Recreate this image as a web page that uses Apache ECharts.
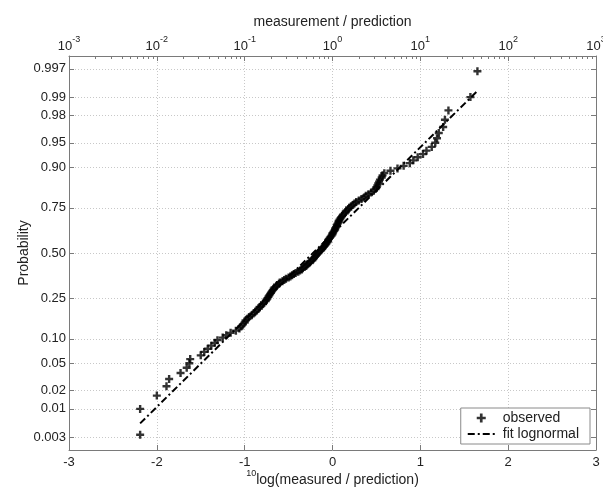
<!DOCTYPE html>
<html>
<head>
<meta charset="utf-8">
<script src="https://cdn.jsdelivr.net/npm/echarts@6/dist/echarts.min.js"></script>
<style>
html, body { margin: 0; padding: 0; background: #fff; }
#plot { width: 603px; height: 489px; }
</style>
</head>
<body>
<div id="plot"></div>
<script>
// 10log(measured / prediction), sorted, one value per observation
var observed = [
  -2.19, -2.19, -2.00, -1.89, -1.86, -1.73, -1.66, -1.63, -1.62, -1.50,
  -1.46, -1.42, -1.38, -1.34, -1.31, -1.25, -1.21, -1.16, -1.10, -1.06,
  -1.04, -1.02, -1.00, -0.99, -0.97, -0.95, -0.92, -0.90, -0.88, -0.86,
  -0.84, -0.83, -0.81, -0.79, -0.78, -0.76, -0.75, -0.74, -0.73, -0.72,
  -0.71, -0.70, -0.69, -0.68, -0.67, -0.66, -0.64, -0.63, -0.61, -0.60,
  -0.57, -0.55, -0.53, -0.50, -0.48, -0.46, -0.44, -0.42, -0.39, -0.37,
  -0.35, -0.34, -0.32, -0.30, -0.29, -0.28, -0.26, -0.25, -0.23, -0.22,
  -0.21, -0.20, -0.19, -0.18, -0.17, -0.16, -0.15, -0.13, -0.12, -0.11,
  -0.10, -0.09, -0.08, -0.07, -0.06, -0.05, -0.05, -0.04, -0.03, -0.02,
  -0.01, 0.00, 0.00, 0.01, 0.02, 0.03, 0.03, 0.04, 0.05, 0.05,
  0.06, 0.07, 0.07, 0.08, 0.09, 0.10, 0.11, 0.12, 0.14, 0.15,
  0.16, 0.18, 0.19, 0.21, 0.23, 0.25, 0.27, 0.30, 0.33, 0.36,
  0.38, 0.41, 0.44, 0.47, 0.49, 0.50, 0.51, 0.52, 0.53, 0.54,
  0.56, 0.57, 0.59, 0.66, 0.74, 0.81, 0.88, 0.92, 0.97, 1.03,
  1.07, 1.13, 1.17, 1.19, 1.21, 1.26, 1.28, 1.32, 1.57, 1.65
];
// fitted lognormal line: end points (x, probability)
var fitX = [-2.19, 1.65];
var fitP = [0.0055, 0.9922];

var probTicks = ['0.003', '0.01', '0.02', '0.05', '0.10', '0.25', '0.50', '0.75', '0.90', '0.95', '0.98', '0.99', '0.997'];
var xTicks = [-3, -2, -1, 0, 1, 2, 3];
var topDecades = [-3, -2, -1, 0, 1, 2, 3];
var minorFactors = [2, 3, 4, 5, 6, 7, 8, 9];

// inverse normal cdf (Acklam) - used as the probability axis scale
function probit(p) {
  var a = [-3.969683028665376e+01, 2.209460984245205e+02, -2.759285104469687e+02, 1.383577518672690e+02, -3.066479806614716e+01, 2.506628277459239e+00];
  var b = [-5.447609879822406e+01, 1.615858368580409e+02, -1.556989798598866e+02, 6.680131188771972e+01, -1.328068155288572e+01];
  var c = [-7.784894002430293e-03, -3.223964580411365e-01, -2.400758277161838e+00, -2.549732539343734e+00, 4.374664141464968e+00, 2.938163982698783e+00];
  var d = [7.784695709041462e-03, 3.224671290700398e-01, 2.445134137142996e+00, 3.754408661907416e+00];
  var q, r;
  if (p < 0.02425) {
    q = Math.sqrt(-2 * Math.log(p));
    return (((((c[0] * q + c[1]) * q + c[2]) * q + c[3]) * q + c[4]) * q + c[5]) / ((((d[0] * q + d[1]) * q + d[2]) * q + d[3]) * q + 1);
  }
  if (p > 1 - 0.02425) {
    q = Math.sqrt(-2 * Math.log(1 - p));
    return -(((((c[0] * q + c[1]) * q + c[2]) * q + c[3]) * q + c[4]) * q + c[5]) / ((((d[0] * q + d[1]) * q + d[2]) * q + d[3]) * q + 1);
  }
  q = p - 0.5;
  r = q * q;
  return (((((a[0] * r + a[1]) * r + a[2]) * r + a[3]) * r + a[4]) * r + a[5]) * q / (((((b[0] * r + b[1]) * r + b[2]) * r + b[3]) * r + b[4]) * r + 1);
}

var n = observed.length;
var obsData = observed.map(function (v, i) { return [v, probit((i + 0.5) / n)]; });
var fitData = fitX.map(function (v, i) { return [v, probit(fitP[i])]; });
var probValues = probTicks.map(function (s) { return probit(parseFloat(s)); });
var minorValues = [];
topDecades.slice(0, -1).forEach(function (e) {
  minorFactors.forEach(function (k) { minorValues.push(e + Math.log10(k)); });
});

function probLabel(v) {
  for (var i = 0; i < probValues.length; i++) {
    if (Math.abs(probValues[i] - v) < 1e-6) return probTicks[i];
  }
  return '';
}

var plusPath = 'path://M3.5,0H6.5V3.5H10V6.5H6.5V10H3.5V6.5H0V3.5H3.5Z';
var dashDotPath = 'path://M0,4H7V6H0Z M10,4H12V6H10Z M15,4H22V6H15Z M25,4H27V6H25Z';
var textColor = '#222';
var lineColor = '#7a7a7a';
var gridLine = { show: true, lineStyle: { color: '#c8c8c8', type: [1, 2], width: 1 } };

var chart = echarts.init(document.getElementById('plot'));
chart.setOption({
  backgroundColor: '#fff',
  animation: false,
  textStyle: { fontFamily: 'Liberation Sans, Arial, sans-serif' },
  grid: { left: 69, right: 7, top: 56, bottom: 39, containLabel: false, outerBoundsMode: 'none' },
  legend: {
    right: 13,
    top: 408,
    orient: 'vertical',
    backgroundColor: '#fff',
    borderColor: '#8a8a8a',
    borderWidth: 1,
    borderRadius: 0,
    padding: [3, 11, 3, 7],
    itemGap: 2,
    itemWidth: 27,
    itemHeight: 9,
    textStyle: { color: textColor, fontSize: 14, padding: [0, 0, 0, 3] },
    data: [
      { name: 'observed', icon: plusPath },
      { name: 'fit lognormal', icon: dashDotPath }
    ]
  },
  xAxis: [
    {
      type: 'value', position: 'bottom', min: -3, max: 3, interval: 1,
      name: '{s|10}{b|log(measured / prediction)}',
      nameLocation: 'middle', nameGap: 19, nameMoveOverlap: false,
      nameTextStyle: {
        rich: {
          s: { fontSize: 9, color: textColor, verticalAlign: 'top', lineHeight: 18 },
          b: { fontSize: 14, color: textColor, verticalAlign: 'bottom', lineHeight: 18 }
        }
      },
      axisLine: { show: true, onZero: false, lineStyle: { color: lineColor } },
      axisTick: { show: true, inside: true, length: 5, lineStyle: { color: lineColor } },
      axisLabel: { color: textColor, fontSize: 13, margin: 6 },
      splitLine: gridLine
    },
    {
      type: 'value', position: 'top', min: -3, max: 3, interval: 1,
      name: 'measurement / prediction',
      nameLocation: 'middle', nameGap: 27, nameMoveOverlap: false,
      nameTextStyle: { color: textColor, fontSize: 14 },
      axisLine: { show: true, onZero: false, lineStyle: { color: lineColor } },
      axisTick: { show: true, inside: true, length: 5, lineStyle: { color: lineColor } },
      axisLabel: {
        margin: 3,
        formatter: function (v) { return '{b|10}{s|' + v + '}'; },
        rich: {
          b: { fontSize: 13, color: textColor, verticalAlign: 'bottom', lineHeight: 18 },
          s: { fontSize: 9, color: textColor, verticalAlign: 'top', lineHeight: 18 }
        }
      },
      splitLine: { show: false }
    },
    {
      type: 'value', position: 'top', min: -3, max: 3,
      axisLine: { show: false, onZero: false },
      axisTick: { show: true, inside: true, length: 3, customValues: minorValues, lineStyle: { color: lineColor } },
      axisLabel: { show: false },
      splitLine: { show: false }
    }
  ],
  yAxis: [
    {
      type: 'value', position: 'left', min: -2.94, max: 2.94,
      name: 'Probability', nameLocation: 'middle', nameGap: 38, nameMoveOverlap: false,
      nameTextStyle: { color: textColor, fontSize: 14 },
      axisLine: { show: true, onZero: false, lineStyle: { color: lineColor } },
      axisTick: { show: true, inside: true, length: 5, customValues: probValues, lineStyle: { color: lineColor } },
      axisLabel: { color: textColor, fontSize: 13, margin: 3, customValues: probValues, formatter: probLabel },
      splitLine: gridLine
    },
    {
      type: 'value', position: 'right', min: -2.94, max: 2.94,
      axisLine: { show: true, onZero: false, lineStyle: { color: lineColor } },
      axisTick: { show: true, inside: true, length: 5, customValues: probValues, lineStyle: { color: lineColor } },
      axisLabel: { show: false },
      splitLine: { show: false }
    }
  ],
  series: [
    {
      name: 'fit lognormal',
      type: 'line',
      xAxisIndex: 0, yAxisIndex: 0,
      data: fitData,
      symbol: 'none',
      lineStyle: { color: '#000', width: 2, type: [7, 3, 2, 3] },
      itemStyle: { color: '#000' },
      z: 2
    },
    {
      name: 'observed',
      type: 'scatter',
      xAxisIndex: 0, yAxisIndex: 0,
      data: obsData,
      symbol: plusPath,
      symbolSize: 8,
      itemStyle: { color: '#000' },
      z: 3
    }
  ]
});
</script>
</body>
</html>
